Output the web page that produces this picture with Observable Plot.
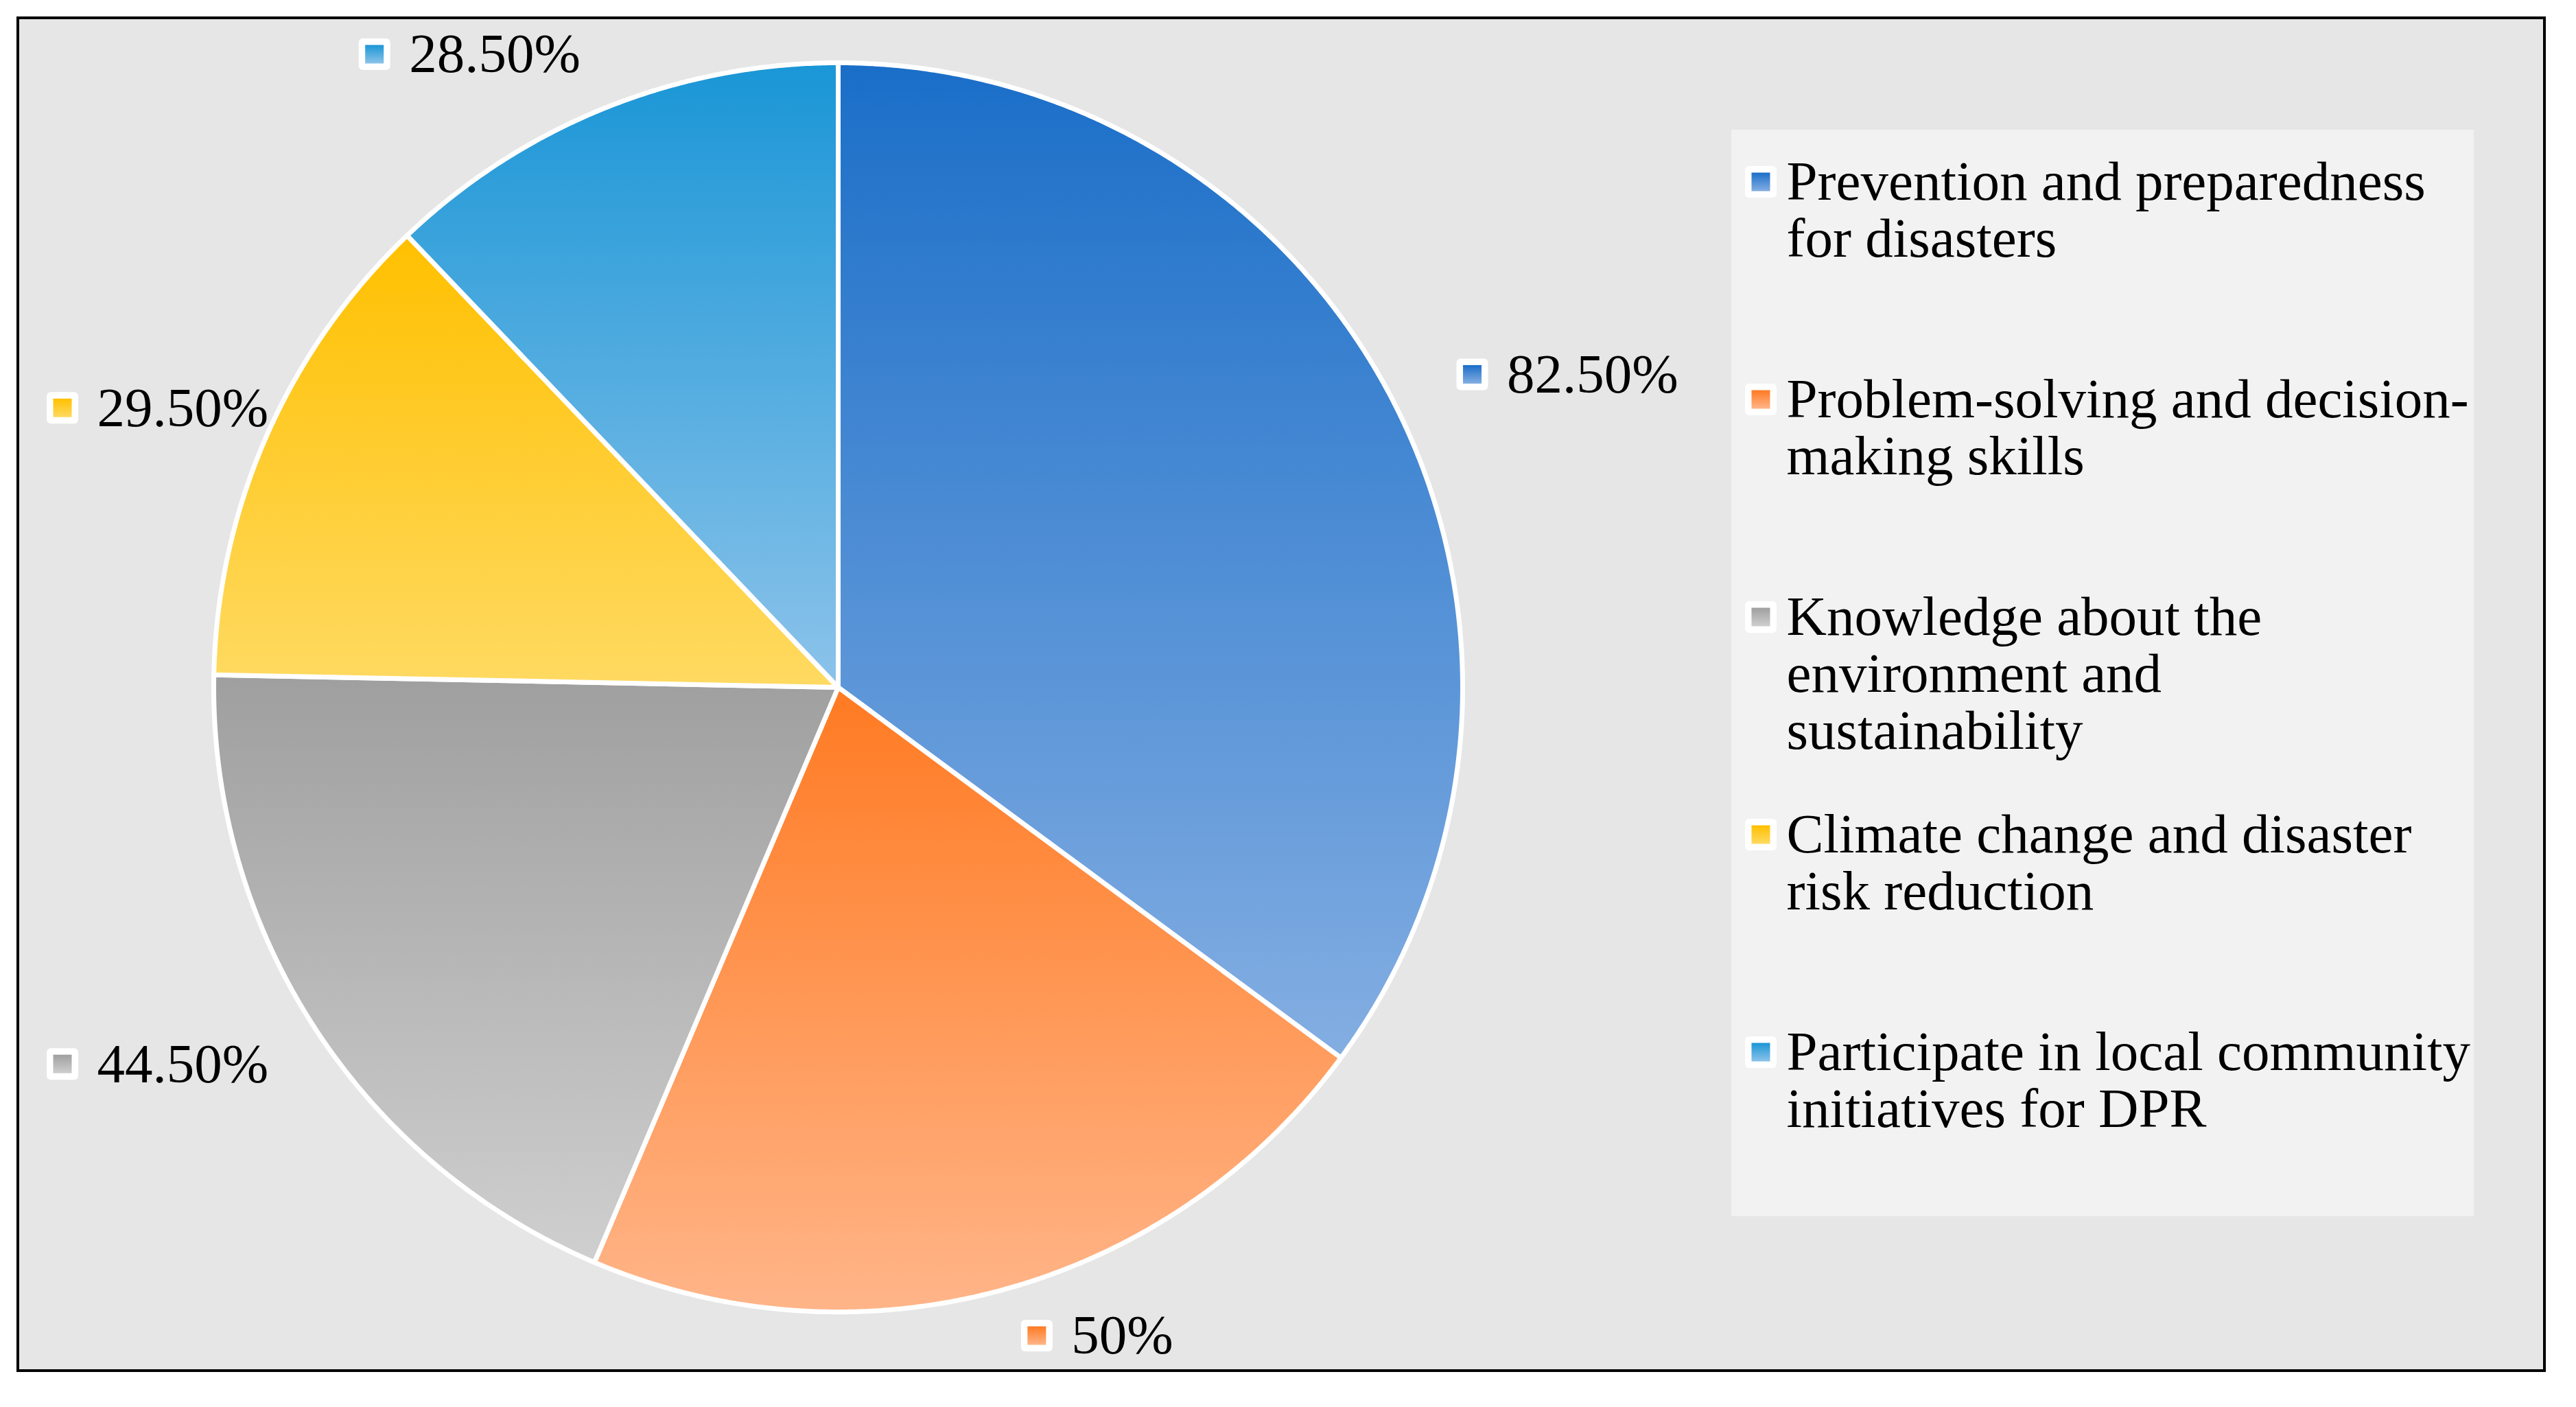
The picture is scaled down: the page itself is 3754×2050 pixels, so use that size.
<!DOCTYPE html>
<html>
<head>
<meta charset="utf-8">
<script src="https://cdn.jsdelivr.net/npm/d3@7"></script>
<script src="https://cdn.jsdelivr.net/npm/@observablehq/plot@0.6"></script>
<style>
  html, body { margin: 0; padding: 0; background: #ffffff; }
  #chart svg { display: block; }
</style>
</head>
<body>
<div id="chart"></div>
<script>
// ---- data ----
const categories = [
  "Prevention and preparedness for disasters",
  "Problem-solving and decision-making skills",
  "Knowledge about the environment and sustainability",
  "Climate change and disaster risk reduction",
  "Participate in local community initiatives for DPR"
];
const legendLines = [
  ["Prevention and preparedness", "for disasters"],
  ["Problem-solving and decision-", "making skills"],
  ["Knowledge about the", "environment and", "sustainability"],
  ["Climate change and disaster", "risk reduction"],
  ["Participate in local community", "initiatives for DPR"]
];
const values = [82.5, 50, 44.5, 29.5, 28.5];
const valueLabels = ["82.50%", "50%", "44.50%", "29.50%", "28.50%"];
const topColors = ["#1a6ec8", "#ff7a22", "#9f9f9f", "#ffc000", "#1a96d6"];
const bottomColors = ["#84aee2", "#ffb589", "#cfcfcf", "#ffda62", "#8cc3ea"];

// ---- layout ----
const W = 3754, H = 2050;
const FONT = "'Liberation Serif', 'Times New Roman', serif";
const FS = 81;
const frameBox = {x1: 26, y1: 26, x2: 3708, y2: 1997};
const cx = 1221, cy = 1001, R = 910;
const legendBox = {x1: 2523, y1: 189, x2: 3605, y2: 1772};
const legendMarkerX = 2566, legendTextX = 2603, legendTopY = 265, legendStep = 317, lineStep = 83;
const outer = 46, inner = 27;

// pie geometry from values
const arcs = d3.pie().sort(null).value(d => d)(values);
const slices = arcs.map((a, i) => {
  const pts = [{x: cx, y: cy}];
  const n = Math.max(8, Math.ceil((a.endAngle - a.startAngle) / 0.005));
  for (let k = 0; k <= n; k++) {
    const t = a.startAngle + (a.endAngle - a.startAngle) * k / n;
    pts.push({x: cx + R * Math.sin(t), y: cy - R * Math.cos(t)});
  }
  return pts;
});

// label placement (outside end)
const ctx = document.createElement("canvas").getContext("2d");
ctx.font = `${FS}px ${FONT}`;
const labels = arcs.map((a, i) => {
  const mid = (a.startAngle + a.endAngle) / 2;
  const px = cx + 1.11 * R * Math.sin(mid);
  let py = cy - 1.11 * R * Math.cos(mid);
  const tw = ctx.measureText(valueLabels[i]).width;
  const bw = 73 + tw;
  let left = Math.sin(mid) >= 0 ? px : px - bw;
  left = Math.max(frameBox.x1 + 42, Math.min(frameBox.x2 - 42 - bw, left));
  py = Math.max(frameBox.y1 + 53, Math.min(frameBox.y2 - 51, py));
  return {i, left, y: py, text: valueLabels[i]};
});

const legendItems = categories.map((c, i) => ({i, y: legendTopY + legendStep * i}));
const legendText = legendLines.flatMap((lines, i) =>
  lines.map((t, j) => ({text: t, y: legendTopY + legendStep * i + lineStep * j}))
);

// marker boxes
const markerData = [
  ...labels.map(l => ({i: l.i, x: l.left + outer / 2, y: l.y})),
  ...legendItems.map(l => ({i: l.i, x: legendMarkerX, y: l.y}))
];

function defs() {
  const g = d3.create("svg:g");
  const d = g.append("defs");
  topColors.forEach((c, i) => {
    const lg = d.append("linearGradient").attr("id", `g${i}`)
      .attr("x1", 0).attr("y1", 0).attr("x2", 0).attr("y2", 1);
    lg.append("stop").attr("offset", "0%").attr("stop-color", c);
    lg.append("stop").attr("offset", "100%").attr("stop-color", bottomColors[i]);
  });
  return g.node();
}

const marks = [
  defs,
  Plot.rect([frameBox], {x1: "x1", y1: "y1", x2: "x2", y2: "y2", fill: "#e6e6e6", stroke: "#000", strokeWidth: 4}),
  Plot.rect([legendBox], {x1: "x1", y1: "y1", x2: "x2", y2: "y2", fill: "#f2f2f2"}),
  ...slices.map((pts, i) => Plot.line(pts, {
    x: "x", y: "y", curve: "linear-closed",
    fill: `url(#g${i})`, stroke: "#ffffff", strokeWidth: 7, strokeLinejoin: "round"
  })),
  Plot.rect(markerData, {
    x1: d => d.x - outer / 2, x2: d => d.x + outer / 2,
    y1: d => d.y - outer / 2, y2: d => d.y + outer / 2,
    fill: "#ffffff", rx: 6
  }),
  ...topColors.map((c, i) => Plot.rect(markerData.filter(d => d.i === i), {
    x1: d => d.x - inner / 2, x2: d => d.x + inner / 2,
    y1: d => d.y - inner / 2, y2: d => d.y + inner / 2,
    fill: `url(#g${i})`
  })),
  Plot.text(labels, {
    x: d => d.left + 73, y: "y", text: "text",
    textAnchor: "start", lineAnchor: "middle",
    fontSize: FS, fontFamily: FONT, fill: "#000"
  }),
  Plot.text(legendText, {
    x: legendTextX, y: "y", text: "text",
    textAnchor: "start", lineAnchor: "middle",
    fontSize: FS, fontFamily: FONT, fill: "#000"
  })
];

const chart = Plot.plot({
  width: W, height: H,
  margin: 0,
  x: {domain: [0, W], range: [0, W], axis: null},
  y: {domain: [0, H], range: [0, H], axis: null},
  style: {background: "#ffffff", fontFamily: FONT},
  marks
});
document.getElementById("chart").appendChild(chart);
</script>
</body>
</html>
